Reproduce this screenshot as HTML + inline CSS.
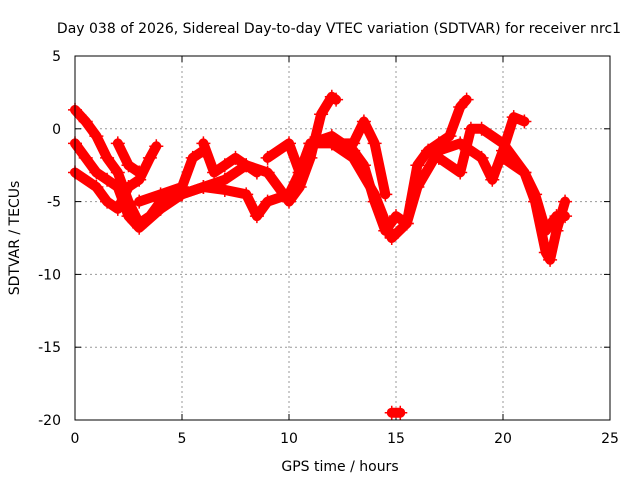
<!DOCTYPE html>
<html><head><meta charset="utf-8"><style>
body{margin:0;background:#fff;}
svg text{font-family:"DejaVu Sans","Liberation Sans",sans-serif;font-size:14px;fill:#000;}
</style></head><body>
<svg id="chart" width="640" height="480">
<text x="339" y="33" text-anchor="middle">Day 038 of 2026, Sidereal Day-to-day VTEC variation (SDTVAR) for receiver nrc1</text>
<text x="340" y="471" text-anchor="middle">GPS time / hours</text>
<text transform="translate(19,238) rotate(-90)" text-anchor="middle">SDTVAR / TECUs</text>
<g id="grid"></g><g id="data"></g>
<rect x="75" y="56" width="535" height="364" fill="none" stroke="#000"/>
</svg>
<script>
const xTicks=[0,5,10,15,20,25];
const yTicks=[5,0,-5,-10,-15,-20];
const trackTimes=[
[0,0.5,1,1.5,2,2.5,3,3.5,4,5,6,7,8,8.5,9,10,10.5,11,12,13,13.5,14,14.5,15,15.5,16,16.5,17,17.5,18,18.3],
[0,0.5,1,1.5,2,2.5,3,4,5,6,7,8,9,10,10.5,11,11.5,12,12.2],
[12,13,14,14.8,15.5,16,17,18,19,19.5,20,20.5,21],
[20,21,21.5,22,22.2,22.5,22.9],
[0,1,1.5,2,2.5,3,3.5,3.8],
[2,2.5,3],
[3,4,5,5.5,6],
[6,6.5,7,7.5,8,8.5],
[9,10,10.5,11,12,13,13.5,14,14.5],
[17,18,18.5,19,20,21,21.5,22,22.5,22.9],
[14.8,15.2]
];
const trackValues=[
[1.3,0.5,-0.5,-2,-3,-5,-6.5,-6,-5,-4.5,-4,-4.2,-4.5,-6,-5,-4.5,-3,-1,-0.5,-1.5,-2.5,-5,-7,-6,-6.5,-2.5,-1.5,-1,-0.5,1.5,2],
[-1,-2,-3,-3.5,-4,-6,-6.8,-5.5,-4.5,-4,-3.5,-2.5,-3,-5,-4,-2,1,2.2,2],
[-1,-2,-4.5,-7.5,-6.5,-4,-1.5,-1,-2,-3.5,-1.5,0.8,0.5],
[-2,-3,-5,-8.5,-9,-7,-5],
[-3,-4,-5,-5.5,-4,-3.5,-2,-1.2],
[-1,-2.5,-3],
[-5,-4.5,-4,-2,-1.5],
[-1,-3,-2.5,-2,-2.5,-3],
[-2,-1,-3,-1,-1,-1,0.5,-1,-4.5],
[-2,-3,0,0,-1,-3,-4.5,-7,-6,-6],
[-19.5,-19.5]
];
const X=v=>75+v*535/25, Y=v=>56+(5-v)*364/25;
const ns="http://www.w3.org/2000/svg";
const grid=document.getElementById('grid'), data=document.getElementById('data');
function mk(tag,attrs,parent){const e=document.createElementNS(ns,tag);for(const k in attrs)e.setAttribute(k,attrs[k]);parent.appendChild(e);return e;}
xTicks.forEach(t=>{
  if(t>0&&t<25){const l=mk('line',{x1:X(t),x2:X(t),y1:56,y2:420,stroke:'#999','stroke-dasharray':'2,3'},grid);
  
  }
  mk('line',{x1:X(t),x2:X(t),y1:420,y2:414,stroke:'#000'},grid);
  mk('line',{x1:X(t),x2:X(t),y1:56,y2:62,stroke:'#000'},grid);
  const tx=mk('text',{x:X(t),y:443,'text-anchor':'middle'},grid);tx.textContent=t;
  
  
});
yTicks.forEach(t=>{
  if(t<5&&t>-20){const l=mk('line',{x1:75,x2:610,y1:Y(t),y2:Y(t),stroke:'#999','stroke-dasharray':'2,3'},grid);
  
  }
  mk('line',{x1:75,x2:81,y1:Y(t),y2:Y(t),stroke:'#000'},grid);
  mk('line',{x1:604,x2:610,y1:Y(t),y2:Y(t),stroke:'#000'},grid);
  const tx=mk('text',{x:61,y:Y(t)+5,'text-anchor':'end'},grid);tx.textContent=t;
  
  
});
trackTimes.forEach((ts,i)=>{
  const vs=trackValues[i];
  const pts=ts.map((t,j)=>X(t)+','+Y(vs[j])).join(' ');
  const pl=mk('polyline',{points:pts,fill:'none',stroke:'#f00','stroke-width':10,'stroke-linejoin':'round','stroke-linecap':'round'},data);
  
  
  ts.forEach((t,j)=>{
    const x=X(t),y=Y(vs[j]);
    const p=mk('path',{d:`M${x-7},${y}H${x+7}M${x},${y-7}V${y+7}`,stroke:'#f00','stroke-width':1.5},data);
    
    
  });
});
</script>
</body></html>
